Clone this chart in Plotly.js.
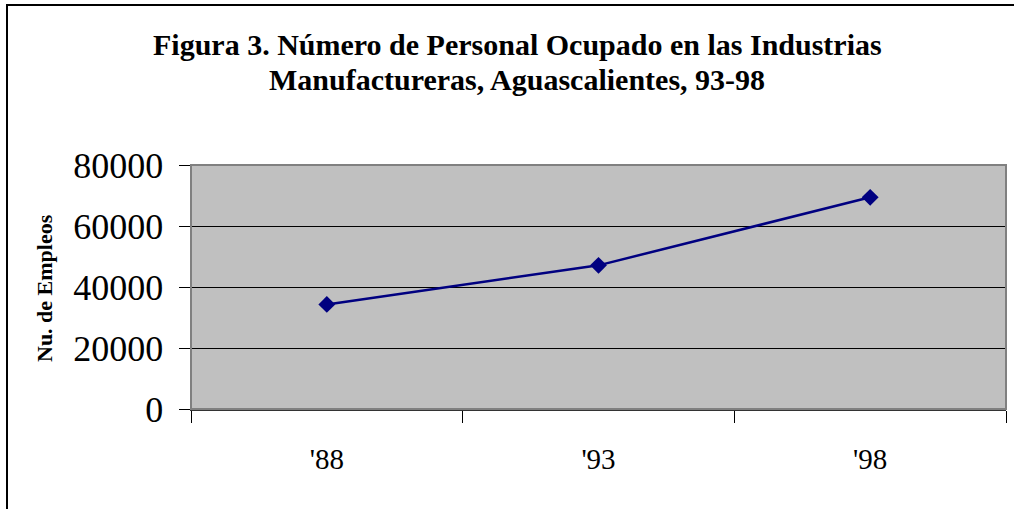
<!DOCTYPE html>
<html>
<head>
<meta charset="utf-8">
<script src="https://cdn.plot.ly/plotly-3.0.1.min.js"></script>
<style>
  html, body { margin: 0; padding: 0; background: #fff; overflow: hidden; }
  #chart { width: 1014px; height: 509px; position: absolute; left: 0; top: 0; }
  #frame { position: absolute; left: 6px; top: 4px; width: 1100px; height: 600px;
           border: 2px solid #000; pointer-events: none; }
</style>
</head>
<body>
<div id="chart"></div>
<div id="frame"></div>
<script>
const years = ["'88", "'93", "'98"];
const empleos = [34300, 47100, 69400];
const yTicks = [0, 20000, 40000, 60000, 80000];
const titleLines = ['Figura 3. Número de Personal Ocupado en las Industrias',
                    'Manufactureras, Aguascalientes, 93-98'];
const yTitle = 'Nu. de Empleos';

const FONT = '"Liberation Serif", "Times New Roman", serif';

const trace = {
  type: 'scatter',
  mode: 'lines+markers',
  x: years,
  y: empleos,
  line: { color: '#000080', width: 2.5 },
  marker: { symbol: 'diamond', size: 13, color: '#000080' },
  hoverinfo: 'x+y'
};

const W = 1014, H = 509, L = 191, R = 8, T = 165, B = 100;
const pw = W - L - R, ph = H - T - B;
const px = (x) => (x - L) / pw;
const py = (y) => (H - B - y) / ph;

const layout = {
  width: W,
  height: H,
  margin: { l: L, r: R, t: T, b: B },
  paper_bgcolor: '#ffffff',
  plot_bgcolor: '#c0c0c0',
  showlegend: false,
  font: { family: FONT, color: '#000' },
  xaxis: {
    type: 'category',
    range: [-0.5, 2.5],
    tickson: 'boundaries',
    ticks: 'outside',
    ticklen: 12,
    tickcolor: '#000',
    tickwidth: 1,
    showline: true,
    linecolor: '#333',
    linewidth: 2,
    showgrid: false,
    zeroline: false,
    tickfont: { family: FONT, size: 29, color: '#000' },
    ticklabelstandoff: 23
  },
  yaxis: {
    range: [0, 80000],
    tickvals: yTicks,
    ticktext: yTicks.map(String),
    ticks: 'outside',
    ticklen: 11,
    tickcolor: '#000',
    tickwidth: 1,
    showline: true,
    linecolor: '#333',
    linewidth: 1.5,
    showgrid: true,
    gridcolor: '#000',
    gridwidth: 1,
    zeroline: false,
    tickfont: { family: FONT, size: 36, color: '#000' },
    ticklabelstandoff: 8
  },
  shapes: [{
    type: 'rect', xref: 'paper', yref: 'paper', x0: 0, x1: 1, y0: 0, y1: 1,
    line: { color: '#808080', width: 2 }, layer: 'above'
  }],
  annotations: [
    {
      text: '<b>' + titleLines[0] + '</b>',
      xref: 'paper', yref: 'paper', x: px(517), y: py(45),
      xanchor: 'center', yanchor: 'middle', showarrow: false,
      font: { family: FONT, size: 30, color: '#000' }
    },
    {
      text: '<b>' + titleLines[1] + '</b>',
      xref: 'paper', yref: 'paper', x: px(517), y: py(80),
      xanchor: 'center', yanchor: 'middle', showarrow: false,
      font: { family: FONT, size: 30, color: '#000' }
    },
    {
      text: '<b>' + yTitle + '</b>',
      xref: 'paper', yref: 'paper',
      x: px(44), y: py(288),
      xanchor: 'center', yanchor: 'middle',
      textangle: -90, showarrow: false,
      font: { family: FONT, size: 22, color: '#000' }
    }
  ]
};

Plotly.newPlot('chart', [trace], layout, { displayModeBar: false, staticPlot: true });
</script>
</body>
</html>
